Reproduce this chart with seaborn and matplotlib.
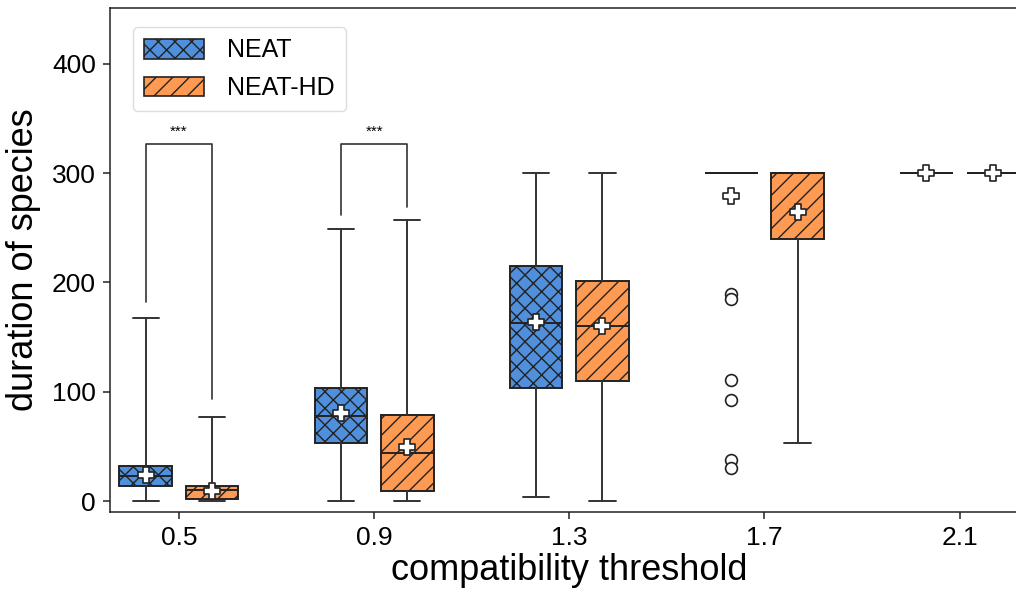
import numpy as np
import pandas as pd
import matplotlib
matplotlib.use("Agg")
import matplotlib.pyplot as plt
from matplotlib.patches import Patch
import seaborn as sns

# ---------------- data ----------------
thresholds = ["0.5", "0.9", "1.3", "1.7", "2.1"]
methods = ["NEAT", "NEAT-HD"]

neat_low = [0, 0, 4, 300, 300]
neat_q1 = [13.5, 53, 103, 300, 300]
neat_med = [23, 78, 163, 300, 300]
neat_q3 = [32.5, 103, 215, 300, 300]
neat_high = [167, 249, 300, 300, 300]
neat_mean = [24, 80.5, 164, 279, 300]
neat_fliers = [[], [], [], [189, 185, 111, 92, 38, 30], []]

hd_low = [0, 0, 0, 53, 300]
hd_q1 = [2, 9, 109.5, 240, 300]
hd_med = [10.5, 44, 160, 300, 300]
hd_q3 = [14, 79, 201, 300, 300]
hd_high = [77, 257, 300, 300, 300]
hd_mean = [9, 49, 160, 264, 300]
hd_fliers = [[], [], [], [], []]

# significance brackets: (category index, bracket top, left leg end, right leg end, label)
sig_cat = [0, 1]
sig_top = [327, 327]
sig_left_end = [182, 262]
sig_right_end = [93, 269]
sig_label = ["***", "***"]

colors = {"NEAT": "#4f8fdb", "NEAT-HD": "#ff9a52"}
hatches = {"NEAT": "xx", "NEAT-HD": "//"}

# ---------------- style ----------------
sns.set_style("ticks")
plt.rcParams["font.family"] = ["Liberation Sans", "DejaVu Sans"]
plt.rcParams["hatch.color"] = "#1a1a1a"
plt.rcParams["hatch.linewidth"] = 1.0
plt.rcParams["text.color"] = "black"
plt.rcParams["axes.labelcolor"] = "black"
plt.rcParams["xtick.color"] = "black"
plt.rcParams["ytick.color"] = "black"

fig = plt.figure(figsize=(10.16, 5.96), dpi=100)
ax = fig.add_axes([110 / 1016, 84 / 596, 918 / 1016, 504 / 596])

edge = "#222222"
offset = 0.17
bw = 0.27

def make_stats(lo, q1, med, q3, hi, fl):
    out = []
    for a, b, c, d, e, f in zip(lo, q1, med, q3, hi, fl):
        out.append(dict(whislo=a, q1=b, med=c, q3=d, whishi=e, fliers=f))
    return out

groups = [
    ("NEAT", make_stats(neat_low, neat_q1, neat_med, neat_q3, neat_high, neat_fliers), -offset, neat_mean),
    ("NEAT-HD", make_stats(hd_low, hd_q1, hd_med, hd_q3, hd_high, hd_fliers), offset, hd_mean),
]

mean_rows = []
for name, stats, off, means in groups:
    pos = np.arange(len(thresholds)) + off
    bp = ax.bxp(
        stats, positions=pos, widths=bw, patch_artist=True, showfliers=True,
        boxprops=dict(facecolor=colors[name], edgecolor=edge, linewidth=1.4),
        medianprops=dict(color=edge, linewidth=1.4),
        whiskerprops=dict(color="#333333", linewidth=1.4),
        capprops=dict(color="#333333", linewidth=1.4),
        flierprops=dict(marker="o", markerfacecolor="white", markeredgecolor=edge,
                        markersize=8.5, markeredgewidth=1.2),
        manage_ticks=False,
    )
    for b in bp["boxes"]:
        b.set_hatch(hatches[name])
    for p, m in zip(pos, means):
        mean_rows.append(dict(x=p, y=m, method=name))

mean_df = pd.DataFrame(mean_rows)
sns.scatterplot(data=mean_df, x="x", y="y", marker="P", s=140, color="white",
                edgecolor="#222222", linewidth=1.2, zorder=5, ax=ax, legend=False)

# significance brackets
for c, top, le, re_, lab in zip(sig_cat, sig_top, sig_left_end, sig_right_end, sig_label):
    xl, xr = c - offset, c + offset
    ax.plot([xl, xl, xr, xr], [le, top, top, re_], color="#333333", linewidth=1.2, zorder=3)
    ax.text(c, top + 4, lab, ha="center", va="bottom", fontsize=11, color="black")

ax.set_xlim(-0.353, 4.35)
ax.set_ylim(-10, 451)
ax.set_xticks(np.arange(len(thresholds)))
ax.set_xticklabels(thresholds)
ax.set_yticks([0, 100, 200, 300, 400])
ax.tick_params(axis="both", labelsize=19, length=5, width=1.1, color="#222222", pad=5)
ax.set_ylabel("duration of species", fontsize=26, labelpad=8)
ax.set_xlabel("compatibility threshold", fontsize=26, labelpad=2)
for s in ax.spines.values():
    s.set_color("#222222")
    s.set_linewidth(1.1)

handles = [Patch(facecolor=colors[m], edgecolor=edge, hatch=hatches[m], linewidth=1.2, label=m)
           for m in methods]
ax.legend(handles=handles, loc="upper left", bbox_to_anchor=(0.025, 0.962),
          borderaxespad=0, fontsize=18, handlelength=2.4, handleheight=0.85,
          handletextpad=0.9, labelspacing=0.55, borderpad=0.45, frameon=True,
          fancybox=True, edgecolor="#dddddd", framealpha=1)

fig.savefig("out.png", dpi=100)
